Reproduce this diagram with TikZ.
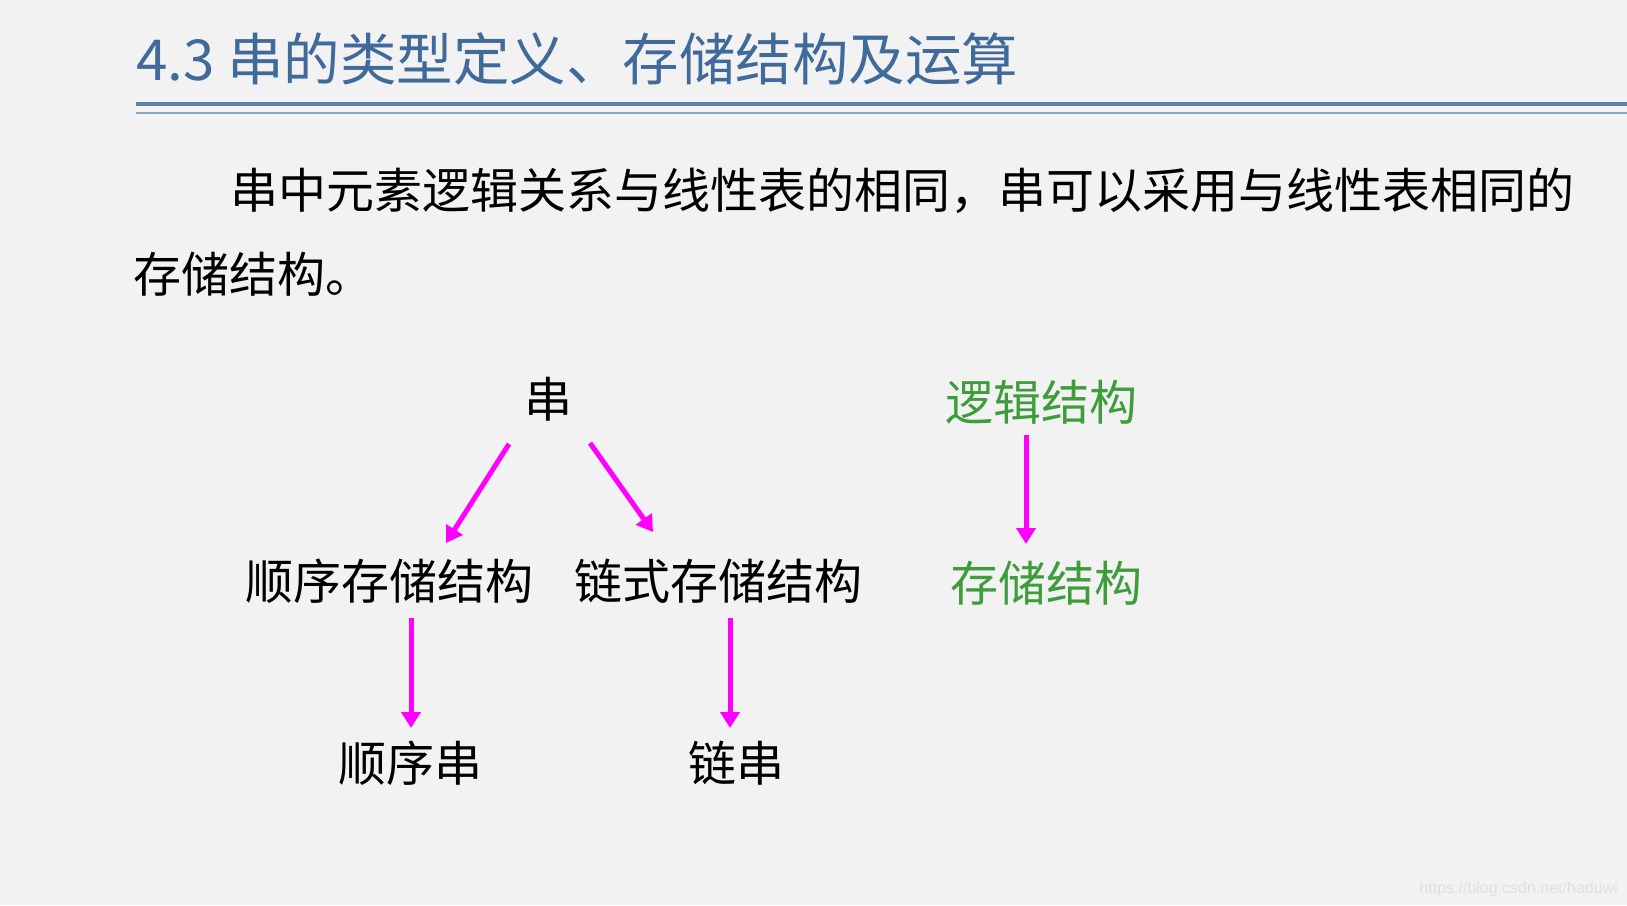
\documentclass[tikz,border=0pt]{standalone}
\usepackage{fontspec}
\setmainfont{Noto Sans CJK SC}
\newfontfamily\markfont{Liberation Sans}
\usepackage{xcolor}
\usetikzlibrary{arrows.meta}
\definecolor{slidebg}{RGB}{242,242,242}
\definecolor{titleblue}{RGB}{64,106,154}
\definecolor{ruleblue}{RGB}{96,128,170}
\definecolor{rulelight}{RGB}{140,166,200}
\definecolor{structgreen}{RGB}{62,156,58}
\definecolor{arrowpink}{RGB}{255,0,255}
\tikzset{
   txt/.style={inner sep=0, outer sep=0, anchor=base, font=\fontsize{48}{48}\selectfont},
   gtxt/.style={txt, text=structgreen},
   arr/.style={draw=arrowpink, line width=5pt,
      -{Triangle[length=16pt,width=19pt]}},
}

\begin{document}
\begin{tikzpicture}[x=1pt,y=-1pt]
   \useasboundingbox (0,0) rectangle (1627,905);
   \fill[slidebg] (0,0) rectangle (1627,905);

   % title and rule
   \node[txt, anchor=base west, text=titleblue,
      font=\fontsize{56.5}{56.5}\selectfont] (title) at (136,80)
      {4.3 串的类型定义、存储结构及运算};
   \coordinate (rl) at (136,104);
   \coordinate (rr) at (1627,104);
   \draw[ruleblue, line width=4pt] (rl) -- (rr);
   \draw[rulelight, line width=2pt] ([yshift=-9pt]rl) -- ([yshift=-9pt]rr);

   % body text
   \node[txt, anchor=base west] (line1) at (230,208)
      {串中元素逻辑关系与线性表的相同，串可以采用与线性表相同的};
   \node[txt, anchor=base west] (line2) at (133,292) {存储结构。};

   % tree
   \node[txt] (chuan) at (548,417) {串};
   \node[txt] (seqst) at (389,599) {顺序存储结构};
   \node[txt] (lnkst) at (718,599) {链式存储结构};
   \node[txt] (seqch) at (410,781) {顺序串};
   \node[txt] (lnkch) at (736,781) {链串};

   \draw[arr] ([shift={(-39,27)}]chuan.base) -- ([shift={(57,-56)}]seqst.base);
   \draw[arr] ([shift={(42,26)}]chuan.base) -- ([shift={(-65,-67)}]lnkst.base);
   \draw[arr] ([shift={(22,19)}]seqst.base) -- ([shift={(1,-53)}]seqch.base);
   \draw[arr] ([shift={(12,19)}]lnkst.base) -- ([shift={(-6,-53)}]lnkch.base);

   % logical vs storage
   \node[gtxt] (logic) at (1041,420) {逻辑结构};
   \node[gtxt] (store) at (1046,601) {存储结构};
   \draw[arr] ([shift={(-15,15)}]logic.base) -- ([shift={(-20,-57)}]store.base);

   \node[inner sep=0, anchor=base east, text=white!88!black,
      font=\fontsize{16}{16}\selectfont\markfont] (mark) at (1618,893)
      {https://blog.csdn.net/haduwi};
\end{tikzpicture}
\end{document}
